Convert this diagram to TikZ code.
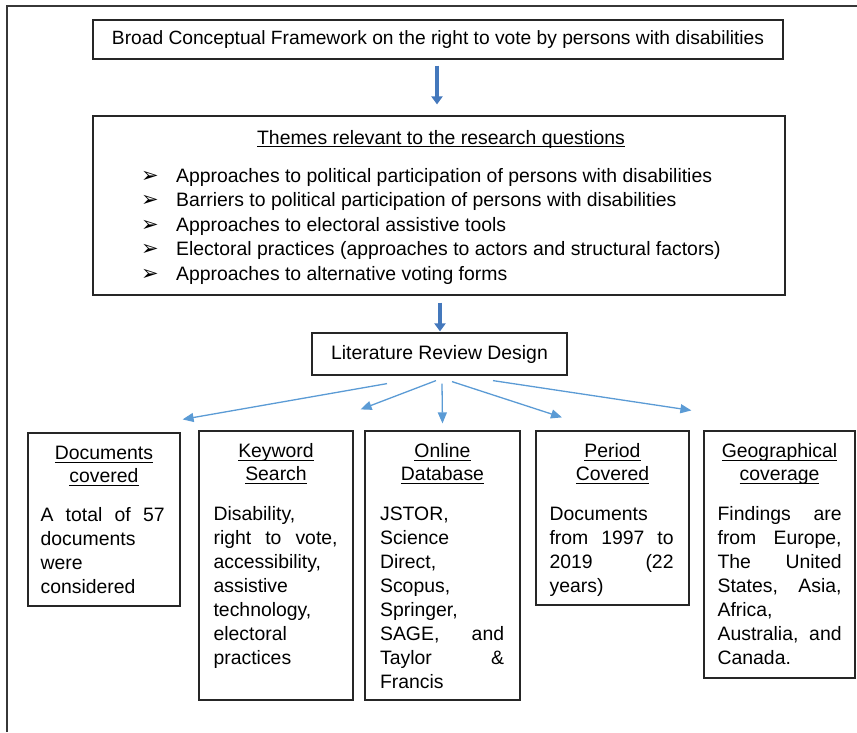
\documentclass[tikz,border=0pt]{standalone}
\usepackage{fontspec}
\setmainfont{Liberation Sans}
\newfontfamily\dejavu{DejaVu Sans}
\usetikzlibrary{arrows.meta}
\definecolor{arrblue}{RGB}{91,155,213}
\definecolor{thickblue}{RGB}{68,120,188}
\definecolor{framegray}{RGB}{55,55,55}
\newcommand\ulx[1]{\setbox0\hbox{#1}\rlap{\rule[-3pt]{\wd0}{1pt}}\box0}
\newcommand\jl[1]{\leavevmode\hbox to 124pt{#1}}
\newcommand\fs{\rule{0pt}{15pt}}
\newcommand\bul{\makebox[33pt][l]{\dejavu\fontsize{21}{21}\selectfont ➢}}
\begin{document}
\begin{tikzpicture}[x=1pt,y=-1pt,
  font=\fontsize{19.4}{24}\selectfont,
  boxst/.style={draw=black!85, line width=1.2pt, inner sep=0pt},
  txt/.style={inner sep=0pt},
  bodyst/.style={inner sep=0pt, anchor=north west, text width=124pt, align=left},
  titlest/.style={inner sep=0pt, anchor=north, align=center, font=\fontsize{19.4}{23}\selectfont},
  bigarrow/.style={thickblue, line width=4pt, -{Triangle[length=8pt,width=11pt]}},
  thinarrow/.style={arrblue, line width=1.3pt, -{Triangle[length=11pt,width=9pt]}}]
\useasboundingbox (0,0) rectangle (857,732);
% outer frame (top and left edges)
\draw[framegray, line width=1.6pt] (7,732) -- (7,6) -- (857,6);
% top box
\node[boxst, minimum width=690pt, minimum height=39pt, font=\fontsize{19.2}{24}\selectfont] (b1) at (438,39.5)
  {Broad Conceptual Framework on the right to vote by persons with disabilities};
% themes box
\node[boxst, minimum width=692pt, minimum height=179pt] (b2) at (439,205.5) {};
\node[txt, anchor=base] (h2) at (441,144) {\ulx{Themes relevant to the research questions}};
\foreach \i/\t in {1/Approaches to political participation of persons with disabilities,
                   2/Barriers to political participation of persons with disabilities,
                   3/Approaches to electoral assistive tools,
                   4/Electoral practices (approaches to actors and structural factors),
                   5/Approaches to alternative voting forms}
  \node[txt, anchor=base west] (bl\i) at (141,{157.4+24.6*\i}) {\makebox[35pt][l]{\dejavu\fontsize{21}{21}\selectfont ➢}\t};
% literature review design
\node[boxst, minimum width=255pt, minimum height=42pt] (lit) at (439.5,354) {Literature Review Design};
% bottom boxes
\node[boxst, minimum width=152pt, minimum height=173pt] (docs) at (104,519.5) {};
\node[boxst, minimum width=154pt, minimum height=269pt] (kw) at (276,565.5) {};
\node[boxst, minimum width=155pt, minimum height=269pt] (db) at (442.5,565.5) {};
\node[boxst, minimum width=153pt, minimum height=174pt] (per) at (612.5,518) {};
\node[boxst, minimum width=151pt, minimum height=247pt] (geo) at (779.5,554.5) {};
% titles
\node[titlest] (docsT) at ([yshift=-12pt]docs.north) {\fs\ulx{Documents}\\\ulx{covered}};
\node[titlest] (kwT) at ([yshift=-12pt]kw.north) {\fs\ulx{Keyword}\\\ulx{Search}};
\node[titlest] (dbT) at ([yshift=-12pt]db.north) {\fs\ulx{Online}\\\ulx{Database}};
\node[titlest] (perT) at ([yshift=-12pt]per.north) {\fs\ulx{Period}\\\ulx{Covered}};
\node[titlest] (geoT) at ([yshift=-12pt]geo.north) {\fs\ulx{Geographical}\\\ulx{coverage}};
% bodies
\node[bodyst] (docsB) at ([xshift=13pt,yshift=-74pt]docs.north west)
  {\fs\jl{A\hfill total\hfill of\hfill 57}\\documents\\were\\considered};
\node[bodyst] (kwB) at ([xshift=15pt,yshift=-75pt]kw.north west)
  {\fs Disability,\\\jl{right\hfill to\hfill vote,}\\accessibility,\\assistive\\technology,\\electoral\\practices};
\node[bodyst] (dbB) at ([xshift=15.5pt,yshift=-75pt]db.north west)
  {\fs JSTOR,\\Science\\Direct,\\Scopus,\\Springer,\\\jl{SAGE,\hfill and}\\\jl{Taylor\hfill \&}\\Francis};
\node[bodyst] (perB) at ([xshift=14pt,yshift=-75pt]per.north west)
  {\fs Documents\\\jl{from\hfill 1997\hfill to}\\\jl{2019\hfill (22}\\years)};
\node[bodyst] (geoB) at ([xshift=14pt,yshift=-75pt]geo.north west)
  {\fs\jl{Findings\hfill are}\\\jl{from\hfill Europe,}\\\jl{The\hfill United}\\\jl{States,\hfill Asia,}\\Africa,\\\jl{Australia,\hfill and}\\Canada.};
% thick arrows
\draw[bigarrow] ([xshift=-1pt,yshift=-6pt]b1.south) -- ([xshift=-2pt,yshift=11pt]b2.north);
\draw[bigarrow] ([xshift=1pt,yshift=-7pt]b2.south) -- ([xshift=0.5pt,yshift=1pt]lit.north);
% thin arrows
\draw[thinarrow] ([xshift=-52.5pt,yshift=-8pt]lit.south) -- ([xshift=2pt,yshift=13pt]docs.north east);
\draw[thinarrow] ([xshift=-3.5pt,yshift=-5pt]lit.south) -- ([xshift=7pt,yshift=21pt]kw.north east);
\draw[thinarrow] ([xshift=2.5pt,yshift=-8pt]lit.south) -- ([yshift=7pt]db.north);
\draw[thinarrow] ([xshift=12.5pt,yshift=-6pt]lit.south) -- ([xshift=-50.5pt,yshift=13pt]per.north);
\draw[thinarrow] ([xshift=53.5pt,yshift=-5pt]lit.south) -- ([xshift=-12pt,yshift=20pt]geo.north west);
\end{tikzpicture}
\end{document}
